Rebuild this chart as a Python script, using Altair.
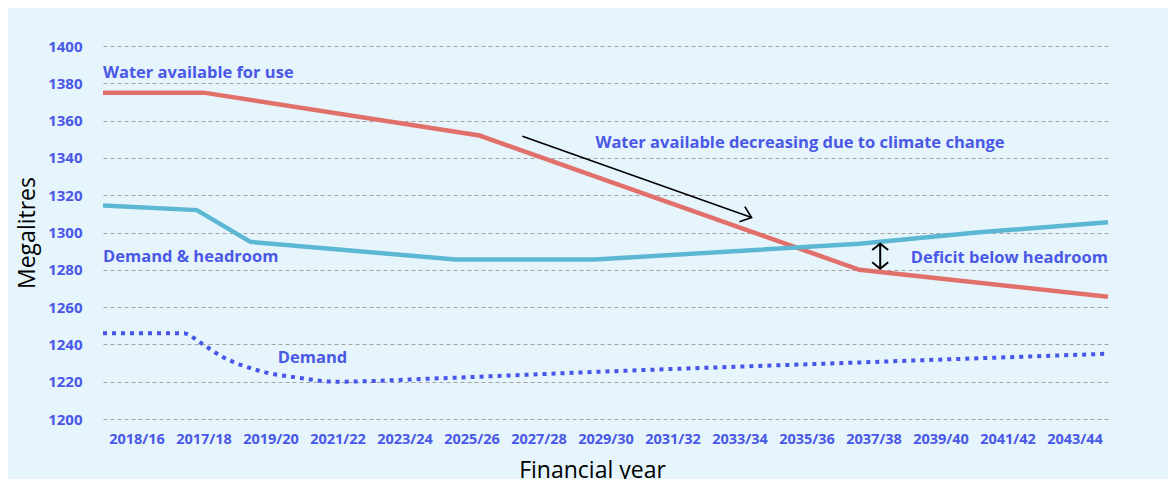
import json
import altair as alt
import pandas as pd

# ---- data ----
categories = ["2018/16", "2017/18", "2019/20", "2021/22", "2023/24", "2025/26",
              "2027/28", "2029/30", "2031/32", "2033/34", "2035/36", "2037/38",
              "2039/40", "2041/42", "2043/44"]
y_ticks = [1200, 1220, 1240, 1260, 1280, 1300, 1320, 1340, 1360, 1380, 1400]

# positions along the financial-year axis (in category units, 0 = left edge)
available_x = [0, 1.5, 5.62, 11.29, 15]
available_y = [1375, 1375, 1352, 1280, 1265.5]

headroom_x = [0, 1.4, 2.2, 5.26, 7.34, 11.29, 13.04, 15]
headroom_y = [1314.5, 1312, 1295, 1285.5, 1285.5, 1294, 1300, 1305.5]

demand_x = [0, 1.2, 1.45, 1.75, 2.32, 2.94, 3.46, 5.0, 7.37, 11.43, 15]
demand_y = [1246, 1246, 1241, 1234, 1226, 1222, 1220, 1221.8, 1225.3, 1230.5, 1235]

left_labels = ["Water available for use", "Water available decreasing due to climate change",
               "Demand & headroom", "Demand"]
left_labels_x = [0, 7.35, 0, 2.61]
left_labels_y = [1385.4, 1348, 1286.7, 1232.5]

right_labels = ["Deficit below headroom"]
right_labels_x = [15]
right_labels_y = [1286.5]

trend_arrow_x = [6.26]
trend_arrow_y = [1351.6]
trend_arrow_x2 = [9.68]
trend_arrow_y2 = [1308]

deficit_arrow_x = [11.6]
deficit_arrow_top = [1294]
deficit_arrow_bottom = [1280.6]

# ---- styles ----
FONT = "Open Sans"
BLUE_TEXT = "#4A58E6"
RED = "#E2706A"
TEAL = "#5BB7D3"
DOT_BLUE = "#4755E8"
BG = "#E6F4FC"

label_expr = json.dumps(categories) + "[floor(datum.value)]"

x_axis = alt.Axis(
    values=[i + 0.5 for i in range(len(categories))],
    labelExpr=label_expr,
    grid=False, ticks=False, domain=False,
    labelFont=FONT, labelFontWeight="bold", labelFontSize=14.5, labelColor=BLUE_TEXT,
    labelPadding=13, labelFlush=False, labelOverlap=False,
    title="Financial year", titleFont=FONT, titleFontSize=23, titleFontWeight="normal",
    titleColor="black", titleX=489, titleY=58, titleBaseline="alphabetic",
)
y_axis = alt.Axis(
    values=y_ticks, format="d",
    grid=True, gridDash=[4, 3], gridColor="#A3A3A3", gridWidth=1,
    ticks=False, domain=False,
    labelFont=FONT, labelFontWeight="bold", labelFontSize=15, labelColor=BLUE_TEXT,
    labelPadding=21,
    title="Megalitres", titleFont=FONT, titleFontSize=23, titleFontWeight="normal",
    titleColor="black", titleX=-76, titleY=186.5, titleBaseline="middle",
)

x_scale = alt.Scale(domain=[0, 15], nice=False, zero=False)
y_scale = alt.Scale(domain=[1200, 1400], nice=False, zero=False)


def xe(field="x"):
    return alt.X(f"{field}:Q", scale=x_scale, axis=x_axis, title="Financial year")


def ye(field="y"):
    return alt.Y(f"{field}:Q", scale=y_scale, axis=y_axis, title="Megalitres")


avail_df = pd.DataFrame({"x": available_x, "y": available_y})
head_df = pd.DataFrame({"x": headroom_x, "y": headroom_y})
dem_df = pd.DataFrame({"x": demand_x, "y": demand_y})

avail_line = alt.Chart(avail_df).mark_line(color=RED, strokeWidth=4.5).encode(
    x=xe(), y=ye(), order="x:Q")
head_line = alt.Chart(head_df).mark_line(color=TEAL, strokeWidth=4.5).encode(
    x=xe(), y=ye(), order="x:Q")
dem_line = alt.Chart(dem_df).mark_line(
    color=DOT_BLUE, strokeWidth=4, strokeDash=[4, 5], strokeCap="butt",
    interpolate="monotone").encode(x=xe(), y=ye(), order="x:Q")

left_df = pd.DataFrame({"x": left_labels_x, "y": left_labels_y, "t": left_labels})
right_df = pd.DataFrame({"x": right_labels_x, "y": right_labels_y, "t": right_labels})

left_text = alt.Chart(left_df).mark_text(
    align="left", baseline="middle", font=FONT, fontWeight="bold", fontSize=16.5,
    color=BLUE_TEXT).encode(x=xe(), y=ye(), text="t:N")
right_text = alt.Chart(right_df).mark_text(
    align="right", baseline="middle", font=FONT, fontWeight="bold", fontSize=16.5,
    color=BLUE_TEXT).encode(x=xe(), y=ye(), text="t:N")

trend_df = pd.DataFrame({"x": trend_arrow_x, "y": trend_arrow_y,
                         "x2": trend_arrow_x2, "y2": trend_arrow_y2})
trend_shaft = alt.Chart(trend_df).mark_rule(color="black", strokeWidth=1.6).encode(
    x=xe(), y=ye(), x2="x2:Q", y2="y2:Q")
trend_head = alt.Chart(trend_df).mark_point(
    shape="M-1,-0.8L0,0L-1,0.8", size=400, angle=19.5, filled=False,
    stroke="black", strokeWidth=1.6, opacity=1).encode(x=xe("x2"), y=ye("y2"))

def_df = pd.DataFrame({"x": deficit_arrow_x, "y": deficit_arrow_top,
                       "y2": deficit_arrow_bottom})
def_shaft = alt.Chart(def_df).mark_rule(color="black", strokeWidth=2).encode(
    x=xe(), y=ye(), y2="y2:Q")
def_head_top = alt.Chart(def_df).mark_point(
    shape="M-1,0.8L0,0L1,0.8", size=256, filled=False,
    stroke="black", strokeWidth=2, opacity=1).encode(x=xe(), y=ye())
def_head_bottom = alt.Chart(def_df).mark_point(
    shape="M-1,-0.8L0,0L1,-0.8", size=256, filled=False,
    stroke="black", strokeWidth=2, opacity=1).encode(x=xe(), y=ye("y2"))

chart = alt.layer(
    avail_line, head_line, dem_line,
    trend_shaft, trend_head, def_shaft, def_head_top, def_head_bottom,
    left_text, right_text,
).properties(
    width=1005, height=373,
    autosize=alt.AutoSizeParams(type="none"),
    padding={"left": 95, "top": 38, "right": 60, "bottom": 70},
    background=BG,
).configure_view(stroke=None)

chart.save("out.html", embed_options={"renderer": "svg", "actions": False})
